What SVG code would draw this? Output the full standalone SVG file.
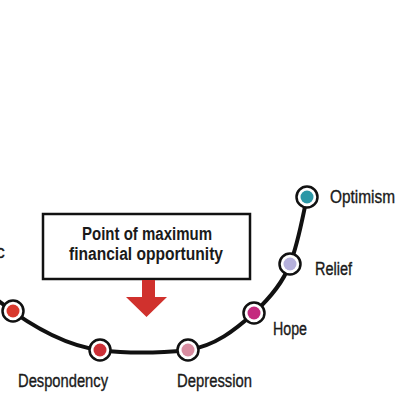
<svg xmlns="http://www.w3.org/2000/svg" width="400" height="400" viewBox="0 0 400 400">
<style>
.lbl{font-family:"Liberation Sans",Arial,sans-serif;font-size:17.5px;fill:#1a1a1a;stroke:#1a1a1a;stroke-width:0.35}
.box{font-family:"Liberation Sans",Arial,sans-serif;font-size:18px;font-weight:bold;fill:#1a1a1a}
.ring{fill:#fff;stroke:#111;stroke-width:2.5}
</style>
<rect width="400" height="400" fill="#fff"/>
<g id="connectors">
<path d="M -5,298 C 20,318 60,345 100,350 C 130,354 160,353 188,350 C 215,346 235,330 254,313 C 272,296 283,282 290,264 C 298,244 302,220 307,197" fill="none" stroke="#111" stroke-width="4"/>
</g>
<g id="panic"><text class="lbl" x="-4" y="258">c</text></g>
<g id="left-node"><circle class="ring" cx="13" cy="311" r="10.5"/><circle cx="13" cy="311" r="6.5" fill="#d9392e"/></g>
<g id="despondency"><circle class="ring" cx="100" cy="350" r="10.5"/><circle cx="100" cy="350" r="6.5" fill="#cc2f36"/><text class="lbl" x="18" y="387" textLength="90" lengthAdjust="spacingAndGlyphs">Despondency</text></g>
<g id="depression"><circle class="ring" cx="188" cy="350" r="10.5"/><circle cx="188" cy="350" r="6.5" fill="#d98ca0"/><text class="lbl" x="177" y="387" textLength="75" lengthAdjust="spacingAndGlyphs">Depression</text></g>
<g id="hope"><circle class="ring" cx="254" cy="313" r="10.5"/><circle cx="254" cy="313" r="6.5" fill="#c42a7e"/><text class="lbl" x="273" y="335" textLength="34" lengthAdjust="spacingAndGlyphs">Hope</text></g>
<g id="relief"><circle class="ring" cx="290" cy="264" r="10.5"/><circle cx="290" cy="264" r="6.5" fill="#b5b0dc"/><text class="lbl" x="315" y="275" textLength="37" lengthAdjust="spacingAndGlyphs">Relief</text></g>
<g id="optimism"><circle class="ring" cx="307" cy="197" r="10.5"/><circle cx="307" cy="197" r="6.5" fill="#2b97a6"/><text class="lbl" x="330" y="203" textLength="65" lengthAdjust="spacingAndGlyphs">Optimism</text></g>
<g id="opportunity">
<rect x="43" y="214" width="207" height="65" fill="#fff" stroke="#111" stroke-width="2.5"/>
<text class="box" x="82" y="240" textLength="130" lengthAdjust="spacingAndGlyphs">Point of maximum</text>
<text class="box" x="69" y="260" textLength="154" lengthAdjust="spacingAndGlyphs">financial opportunity</text>
<polygon points="142,280 155,280 155,297 167,297 146.5,317 126,297 142,297" fill="#d0312d"/>
</g>
</svg>
